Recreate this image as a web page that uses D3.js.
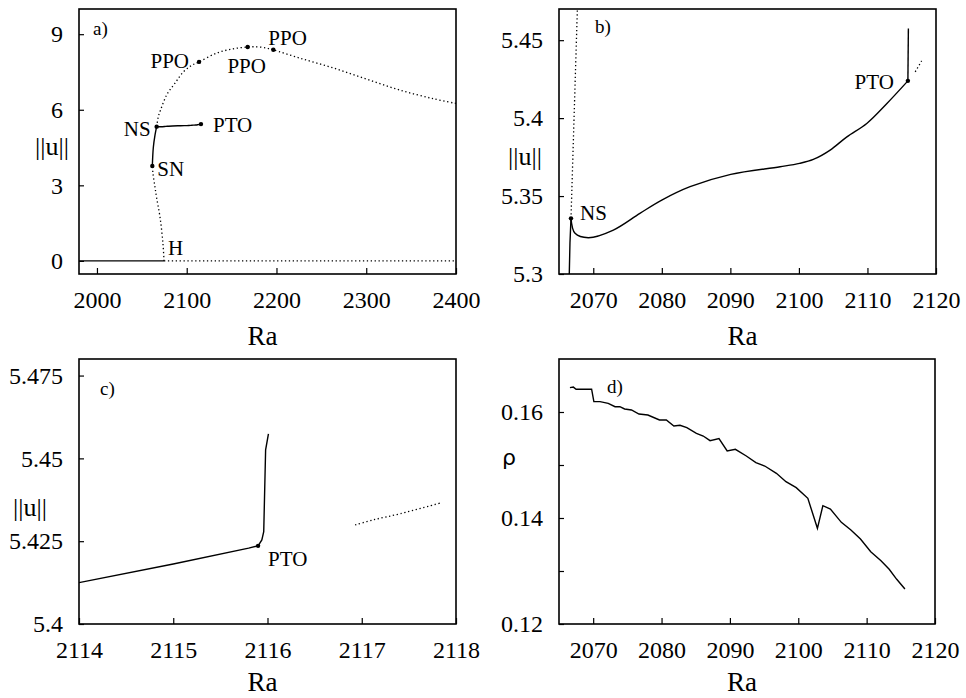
<!DOCTYPE html>
<html>
<head>
<meta charset="utf-8">
<script src="https://cdn.jsdelivr.net/npm/d3@7"></script>
<style>
  body { margin: 0; background: #fff; }
  text { font-family: "Liberation Serif", "Times New Roman", Times, serif; fill: #000; }
  text.sans { font-family: "DejaVu Sans", sans-serif; }
</style>
</head>
<body>
<svg width="966" height="698"></svg>
<script>
// ---- panel a: bifurcation diagram ----
const aTrivialStable = [[1980, 0], [2074.7, 0]];
const aTrivialUnstable = [[2074.7, 0], [2400, 0]];
const aHtoSN = [[2074.7, 0], [2073.5, 0.7], [2070.2, 1.75], [2066.5, 2.5], [2064.6, 2.94], [2062.4, 3.47], [2061.7, 3.77]];
const aSNtoNS = [[2061.7, 3.77], [2062.8, 4.5], [2064.7, 5.0], [2066.5, 5.33]];
const aUpper = [[2066.5, 5.33], [2068.4, 5.73], [2071.0, 6.0], [2077.7, 6.59], [2087.0, 7.06], [2096.2, 7.5],
  [2105.5, 7.76], [2113.7, 7.9], [2133.3, 8.25], [2151.9, 8.42], [2167.9, 8.49], [2178, 8.5], [2189.1, 8.45],
  [2196.5, 8.38], [2226, 8.05], [2263.2, 7.66], [2300.3, 7.22], [2337.5, 6.78], [2374.6, 6.44], [2400, 6.25]];
const aPoints = [
  { name: "H", ra: 2074.7, u: 0, dot: false },
  { name: "SN", ra: 2061.7, u: 3.77, dot: true },
  { name: "NS", ra: 2066.5, u: 5.33, dot: true },
  { name: "PTO", ra: 2115.9, u: 5.43, dot: true },
  { name: "PPO", ra: 2113.7, u: 7.9, dot: true },
  { name: "PPO", ra: 2167.9, u: 8.49, dot: true },
  { name: "PPO", ra: 2196.5, u: 8.38, dot: true }
];

// ---- panel b: torus branch ----
const bSolidLower = [[2066.45, 5.29], [2066.6, 5.32], [2066.75, 5.3357]];
const bDottedUp = [[2066.75, 5.3357], [2067.75, 5.48]];
const bTorus = [[2066.75, 5.3357], [2067.34, 5.3261], [2069.28, 5.3233], [2072.93, 5.3282], [2076.8, 5.3389],
  [2079.99, 5.3474], [2084.12, 5.356], [2090.06, 5.3639], [2097.26, 5.3688], [2100.09, 5.371], [2102.1, 5.3735],
  [2104.56, 5.3795], [2107.0, 5.388], [2109.9, 5.3966], [2112.84, 5.4094], [2115.9, 5.4239]];
const bVertical = [[2115.9, 5.4239], [2115.97, 5.4575]];
const bDottedRight = [[2116.97, 5.4297], [2117.9, 5.4367]];
const bPoints = [{ name: "NS", ra: 2066.75, u: 5.3357 }, { name: "PTO", ra: 2115.9, u: 5.4239 }];

// ---- panel c: zoom near PTO ----
const cSolid = [[2114, 5.4125], [2115, 5.4181], [2115.8, 5.4229], [2115.9, 5.4236], [2115.94, 5.4254],
  [2115.96, 5.4279], [2115.98, 5.4526], [2116.01, 5.4574]];
const cDotted = [[2116.93, 5.4299], [2117.13, 5.4315], [2117.41, 5.4333], [2117.83, 5.4365]];
const cPoints = [{ name: "PTO", ra: 2115.9, u: 5.4236 }];

// ---- panel d: rotation number ----
const dRa = [2066.6, 2067.1, 2067.5, 2069.77, 2070.1, 2071.0, 2072.2, 2073.2, 2073.9, 2074.6, 2075.6, 2076.7,
  2078.0, 2079.7, 2080.7, 2081.8, 2082.7, 2083.7, 2085.1, 2086.1, 2087.1, 2088.4, 2089.6, 2090.8, 2092.4,
  2093.8, 2095.1, 2096.8, 2098.2, 2099.7, 2101.4, 2102.8, 2103.6, 2104.7, 2106.3, 2107.7, 2109.1, 2110.6,
  2112.1, 2113.3, 2114.4, 2115.6];
const dRho = [0.1646, 0.1647, 0.1643, 0.1643, 0.16195, 0.16195, 0.16164, 0.161, 0.161, 0.16057, 0.16038, 0.15962,
  0.15943, 0.15849, 0.15849, 0.15736, 0.15749, 0.15704, 0.15598, 0.15547, 0.15459, 0.15497, 0.15264, 0.15296,
  0.1517, 0.15044, 0.14981, 0.14843, 0.14685, 0.14572, 0.14371, 0.13805, 0.14233, 0.1417, 0.13918, 0.13774,
  0.13604, 0.13364, 0.13195, 0.13032, 0.12843, 0.1266];

const svg = d3.select("svg");

function makePanel(o) {
  const x = d3.scaleLinear().domain(o.xDomain).range([o.left, o.right]);
  const y = d3.scaleLinear().domain(o.yDomain).range([o.bottom, o.top]);
  const g = svg.append("g");

  g.append("clipPath").attr("id", "clip-" + o.id)
    .append("rect")
    .attr("x", o.left).attr("y", o.top)
    .attr("width", o.right - o.left).attr("height", o.bottom - o.top);

  const xAxis = d3.axisBottom(x).tickValues(o.xTicks).tickFormat(d => String(d))
    .tickSizeInner(-6).tickSizeOuter(0).tickPadding(17);
  const yAxis = d3.axisLeft(y).tickValues(o.yTicks)
    .tickFormat(d => (o.yLabels.includes(d) ? String(d) : ""))
    .tickSizeInner(-5).tickSizeOuter(0).tickPadding(16);

  const gx = g.append("g").attr("transform", `translate(0,${o.bottom})`).call(xAxis);
  const gy = g.append("g").attr("transform", `translate(${o.left},0)`).call(yAxis);
  [gx, gy].forEach(a => {
    a.select(".domain").remove();
    a.selectAll("line").attr("stroke", "#000").attr("stroke-width", 1.2);
    a.selectAll("text").attr("font-size", 24);
  });

  g.append("rect")
    .attr("x", o.left).attr("y", o.top)
    .attr("width", o.right - o.left).attr("height", o.bottom - o.top)
    .attr("fill", "none").attr("stroke", "#000").attr("stroke-width", 1.6);

  g.append("text").attr("x", o.left + o.tagDx).attr("y", o.top + o.tagDy)
    .attr("font-size", 19).text(o.id + ")");

  g.append("text").attr("x", (o.left + o.right) / 2 - 5).attr("y", o.bottom + o.titleDy)
    .attr("text-anchor", "middle").attr("font-size", 27).text("Ra");

  return { g, x, y, clip: "url(#clip-" + o.id + ")" };
}

function drawLine(p, data, dotted, curve) {
  const line = d3.line().x(d => p.x(d[0])).y(d => p.y(d[1])).curve(curve || d3.curveCatmullRom);
  p.g.append("path").datum(data)
    .attr("clip-path", p.clip)
    .attr("d", line)
    .attr("fill", "none")
    .attr("stroke", "#000")
    .attr("stroke-width", dotted ? 1.3 : 1.4)
    .attr("stroke-dasharray", dotted ? "1.3,2.6" : null);
}

function dot(p, ra, u) {
  p.g.append("circle").attr("cx", p.x(ra)).attr("cy", p.y(u)).attr("r", 2.2).attr("fill", "#000");
}

function note(p, txt, ra, u, dx, dy, anchor) {
  p.g.append("text").attr("x", p.x(ra) + dx).attr("y", p.y(u) + dy)
    .attr("text-anchor", anchor || "start").attr("font-size", 21).text(txt);
}

// panel a
const pa = makePanel({ id: "a", left: 79, right: 456, top: 9, bottom: 274,
  xDomain: [1980, 2400], yDomain: [-0.52, 10],
  xTicks: [2000, 2100, 2200, 2300, 2400], yTicks: [0, 3, 6, 9], yLabels: [0, 3, 6, 9],
  tagDx: 14, tagDy: 26, titleDy: 71 });
drawLine(pa, aTrivialStable, false, d3.curveLinear);
drawLine(pa, aTrivialUnstable, true, d3.curveLinear);
drawLine(pa, aHtoSN, true);
drawLine(pa, aSNtoNS, false);
drawLine(pa, aUpper, true);
drawLine(pa, bTorus, false);
aPoints.filter(d => d.dot).forEach(d => dot(pa, d.ra, d.u));
note(pa, "H", aPoints[0].ra, aPoints[0].u, 4, -6);
note(pa, "SN", aPoints[1].ra, aPoints[1].u, 5, 10);
note(pa, "NS", aPoints[2].ra, aPoints[2].u, -6, 9, "end");
note(pa, "PTO", aPoints[3].ra, aPoints[3].u, 12, 8);
note(pa, "PPO", aPoints[4].ra, aPoints[4].u, -10, 6, "end");
note(pa, "PPO", aPoints[5].ra, aPoints[5].u, -1, 26, "middle");
note(pa, "PPO", aPoints[6].ra, aPoints[6].u, -5, -5);
pa.g.append("text").attr("x", 52).attr("y", 155).attr("text-anchor", "middle")
  .attr("font-size", 26).text("||u||");

// panel b
const pb = makePanel({ id: "b", left: 559, right: 936, top: 9, bottom: 274,
  xDomain: [2065, 2120], yDomain: [5.3, 5.47],
  xTicks: [2070, 2080, 2090, 2100, 2110, 2120], yTicks: [5.3, 5.35, 5.4, 5.45], yLabels: [5.3, 5.35, 5.4, 5.45],
  tagDx: 36, tagDy: 24, titleDy: 71 });
drawLine(pb, bSolidLower, false, d3.curveLinear);
drawLine(pb, bDottedUp, true, d3.curveLinear);
drawLine(pb, bTorus, false);
drawLine(pb, bVertical, false, d3.curveLinear);
drawLine(pb, bDottedRight, true, d3.curveLinear);
bPoints.forEach(d => dot(pb, d.ra, d.u));
note(pb, "NS", bPoints[0].ra, bPoints[0].u, 9, 2);
note(pb, "PTO", bPoints[1].ra, bPoints[1].u, -14, 8, "end");
pb.g.append("text").attr("x", 525).attr("y", 165).attr("text-anchor", "middle")
  .attr("font-size", 26).text("||u||");

// panel c
const pc = makePanel({ id: "c", left: 79, right: 456, top: 359, bottom: 624,
  xDomain: [2114, 2118], yDomain: [5.4, 5.48],
  xTicks: [2114, 2115, 2116, 2117, 2118], yTicks: [5.4, 5.425, 5.45, 5.475], yLabels: [5.4, 5.425, 5.45, 5.475],
  tagDx: 21, tagDy: 36, titleDy: 67 });
drawLine(pc, cSolid, false, d3.curveLinear);
drawLine(pc, cDotted, true);
cPoints.forEach(d => dot(pc, d.ra, d.u));
note(pc, "PTO", cPoints[0].ra, cPoints[0].u, 10, 20);
pc.g.append("text").attr("x", 30).attr("y", 516).attr("text-anchor", "middle")
  .attr("font-size", 26).text("||u||");

// panel d
const pd = makePanel({ id: "d", left: 559, right: 935, top: 359, bottom: 624,
  xDomain: [2065, 2120], yDomain: [0.12, 0.17],
  xTicks: [2070, 2080, 2090, 2100, 2110, 2120], yTicks: [0.12, 0.13, 0.14, 0.15, 0.16], yLabels: [0.12, 0.14, 0.16],
  tagDx: 48, tagDy: 34, titleDy: 67 });
drawLine(pd, dRa.map((r, i) => [r, dRho[i]]), false, d3.curveLinear);
pd.g.append("text").attr("class", "sans").attr("x", 509).attr("y", 465).attr("text-anchor", "middle")
  .attr("font-size", 22).text("ρ");
</script>
</body>
</html>
